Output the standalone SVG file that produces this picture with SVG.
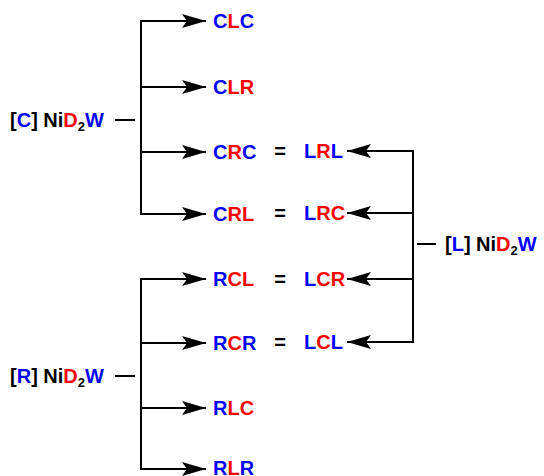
<svg xmlns="http://www.w3.org/2000/svg" width="544" height="476" viewBox="0 0 544 476">
  <style>
    text { font-family: "Liberation Sans", Arial, sans-serif; font-weight: bold; font-size: 20px; fill: #000; }
    .b { fill: #0000ff; }
    .r { fill: #ff0000; }
    .sub { font-size: 13px; }
    .ln { fill: none; stroke: #000; stroke-width: 2; }
  </style>
  <defs>
    <marker id="head" viewBox="0 0 24 14" refX="24" refY="7" markerWidth="24" markerHeight="14" markerUnits="userSpaceOnUse" orient="auto">
      <path d="M0,0 L24,7 L0,14 L5,7 Z" fill="#000"/>
    </marker>
  </defs>

  <!-- connectors -->
  <g id="connectors">
    <!-- C tree -->
    <path class="ln" d="M115,120 H135"/>
    <path class="ln" d="M141,21 V214"/>
    <path class="ln" d="M140,21 H206" marker-end="url(#head)"/>
    <path class="ln" d="M140,87 H206" marker-end="url(#head)"/>
    <path class="ln" d="M140,152 H206" marker-end="url(#head)"/>
    <path class="ln" d="M140,214 H206" marker-end="url(#head)"/>
    <!-- R tree -->
    <path class="ln" d="M115,376 H135"/>
    <path class="ln" d="M141,279 V469"/>
    <path class="ln" d="M140,279 H206" marker-end="url(#head)"/>
    <path class="ln" d="M140,343 H206" marker-end="url(#head)"/>
    <path class="ln" d="M140,408 H206" marker-end="url(#head)"/>
    <path class="ln" d="M140,469 H206" marker-end="url(#head)"/>
    <!-- L tree -->
    <path class="ln" d="M417,244 H436"/>
    <path class="ln" d="M413,151 V342"/>
    <path class="ln" d="M414,151 H347" marker-end="url(#head)"/>
    <path class="ln" d="M414,213 H347" marker-end="url(#head)"/>
    <path class="ln" d="M414,279 H347" marker-end="url(#head)"/>
    <path class="ln" d="M414,342 H347" marker-end="url(#head)"/>
  </g>

  <!-- source complexes -->
  <g id="src-C">
    <text x="10" y="127">[<tspan class="b">C</tspan>] Ni<tspan class="r">D</tspan><tspan class="sub" dy="4">2</tspan><tspan class="b" dy="-4">W</tspan></text>
  </g>
  <g id="src-R">
    <text x="10" y="383">[<tspan class="b">R</tspan>] Ni<tspan class="r">D</tspan><tspan class="sub" dy="4">2</tspan><tspan class="b" dy="-4">W</tspan></text>
  </g>
  <g id="src-L">
    <text x="445" y="251">[<tspan class="b">L</tspan>] Ni<tspan class="r">D</tspan><tspan class="sub" dy="4">2</tspan><tspan class="b" dy="-4">W</tspan></text>
  </g>

  <!-- products from C -->
  <g id="CLC"><text x="213" y="28"><tspan class="b">C</tspan><tspan class="r">L</tspan><tspan class="b">C</tspan></text></g>
  <g id="CLR"><text x="213" y="94"><tspan class="b">C</tspan><tspan class="r">LR</tspan></text></g>
  <g id="CRC"><text x="213" y="159"><tspan class="b">C</tspan><tspan class="r">R</tspan><tspan class="b">C</tspan></text></g>
  <g id="CRL"><text x="213" y="221"><tspan class="b">C</tspan><tspan class="r">RL</tspan></text></g>

  <!-- products from R -->
  <g id="RCL"><text x="213" y="286"><tspan class="b">R</tspan><tspan class="r">CL</tspan></text></g>
  <g id="RCR"><text x="213" y="350"><tspan class="b">R</tspan><tspan class="r">C</tspan><tspan class="b">R</tspan></text></g>
  <g id="RLC"><text x="213" y="415"><tspan class="b">R</tspan><tspan class="r">LC</tspan></text></g>
  <g id="RLR"><text x="213" y="475"><tspan class="b">R</tspan><tspan class="r">L</tspan><tspan class="b">R</tspan></text></g>

  <!-- equivalences -->
  <g id="eq">
    <text x="280" y="158" text-anchor="middle">=</text>
    <text x="280" y="220" text-anchor="middle">=</text>
    <text x="280" y="286" text-anchor="middle">=</text>
    <text x="280" y="349" text-anchor="middle">=</text>
  </g>

  <!-- products from L -->
  <g id="LRL"><text x="304" y="158"><tspan class="b">L</tspan><tspan class="r">R</tspan><tspan class="b">L</tspan></text></g>
  <g id="LRC"><text x="304" y="220"><tspan class="b">L</tspan><tspan class="r">RC</tspan></text></g>
  <g id="LCR"><text x="304" y="286"><tspan class="b">L</tspan><tspan class="r">CR</tspan></text></g>
  <g id="LCL"><text x="304" y="349"><tspan class="b">L</tspan><tspan class="r">C</tspan><tspan class="b">L</tspan></text></g>
</svg>
